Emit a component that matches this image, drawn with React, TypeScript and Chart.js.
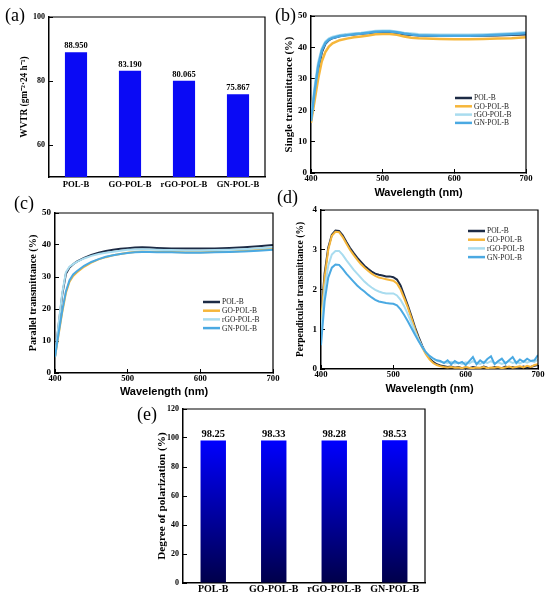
import { useEffect, useRef } from 'react';
import Chart from 'chart.js/auto';

// ---- data ----
const samples = ['POL-B', 'GO-POL-B', 'rGO-POL-B', 'GN-POL-B'];

const wvtr = [88.95, 83.19, 80.065, 75.867];
const wvtrTicks = [60, 80, 100];

const polarization = [98.25, 98.33, 98.28, 98.53];
const polarizationTicks = [0, 20, 40, 60, 80, 100, 120];

const wavelengthTicks = [400, 500, 600, 700];
const transTicks = [0, 10, 20, 30, 40, 50];
const perpTicks = [0, 1, 2, 3, 4];

const wlCoarse = [
  400, 405, 410, 415, 420, 425, 430, 440, 450, 460, 470, 480, 490, 500, 510,
  520, 530, 540, 550, 560, 580, 600, 620, 640, 660, 680, 700,
];

const singlePol = [
  17, 25, 33, 38.5, 41.2, 42.4, 43, 43.6, 44, 44.2, 44.4, 44.6, 44.9, 45, 44.9,
  44.6, 44.2, 44, 43.9, 43.8, 43.7, 43.7, 43.7, 43.8, 43.9, 44, 44.2,
];
const singleGo = [
  16, 23, 30, 35.5, 38.5, 40.3, 41.3, 42.3, 42.8, 43.2, 43.5, 43.8, 44.2, 44.3,
  44.3, 44, 43.5, 43.1, 42.9, 42.8, 42.7, 42.6, 42.6, 42.7, 42.8, 42.9, 43.2,
];
const singleRgo = [
  17.5, 27, 35, 39.5, 41.8, 42.8, 43.3, 43.9, 44.2, 44.4, 44.6, 44.9, 45.2,
  45.3, 45.3, 45, 44.6, 44.4, 44.2, 44.1, 44, 44, 44, 44.1, 44.3, 44.5, 44.8,
];
const singleGn = [
  16.5, 26, 34, 39, 41.4, 42.5, 43, 43.6, 43.9, 44.2, 44.4, 44.7, 45, 45.1,
  45.1, 44.8, 44.4, 44.1, 43.9, 43.8, 43.7, 43.7, 43.7, 43.8, 44, 44.2, 44.5,
];

const parallelPol = [
  5, 15, 24.5, 31, 33, 34, 34.8, 36, 36.9, 37.6, 38.1, 38.5, 38.8, 39, 39.2,
  39.3, 39.2, 39.1, 39, 38.9, 38.9, 38.9, 38.9, 39.1, 39.3, 39.6, 40,
];
const parallelGo = [
  5, 12, 19, 25, 28.5, 30.3, 31.4, 33.2, 34.5, 35.5, 36.2, 36.8, 37.2, 37.6,
  37.8, 38, 37.9, 37.9, 37.8, 37.8, 37.7, 37.7, 37.8, 37.9, 38.2, 38.5, 38.9,
];
const parallelRgo = [
  5, 15.5, 25, 31.5, 33.2, 34, 34.7, 35.8, 36.6, 37.2, 37.6, 37.9, 38.2, 38.5,
  38.6, 38.7, 38.6, 38.5, 38.4, 38.4, 38.3, 38.3, 38.4, 38.5, 38.7, 39, 39.3,
];
const parallelGn = [
  5, 12.5, 19.5, 25.5, 29, 30.8, 31.8, 33.5, 34.7, 35.6, 36.3, 36.8, 37.2,
  37.5, 37.7, 37.8, 37.8, 37.7, 37.7, 37.7, 37.6, 37.6, 37.7, 37.8, 38, 38.2,
  38.5,
];

// 400..700 nm every 5 nm
const wlFine = [
  400, 405, 410, 415, 420, 425, 430, 435, 440, 445, 450, 455, 460, 465, 470,
  475, 480, 485, 490, 495, 500, 505, 510, 515, 520, 525, 530, 535, 540, 545,
  550, 555, 560, 565, 570, 575, 580, 585, 590, 595, 600, 605, 610, 615, 620,
  625, 630, 635, 640, 645, 650, 655, 660, 665, 670, 675, 680, 685, 690, 695,
  700,
];
const perpPol = [
  1.3, 2.4, 3.05, 3.38, 3.48, 3.47, 3.36, 3.2, 3.05, 2.92, 2.8, 2.7, 2.6, 2.52,
  2.45, 2.4, 2.37, 2.35, 2.33, 2.33, 2.31, 2.25, 2.1, 1.85, 1.6, 1.33, 1.05,
  0.8, 0.58, 0.4, 0.27, 0.18, 0.12, 0.09, 0.07, 0.05, 0.06, 0.03, 0.05, 0.02,
  0.04, 0.02, 0.05, 0.03, 0.02, 0.06, 0.03, 0.02, 0.05, 0.03, 0.02, 0.06, 0.03,
  0.05, 0.02, 0.04, 0.06, 0.03, 0.05, 0.08, 0.1,
];
const perpGo = [
  1.2, 2.3, 3.0, 3.35, 3.45, 3.44, 3.32, 3.16, 3.0, 2.87, 2.75, 2.64, 2.55,
  2.47, 2.4, 2.34, 2.3, 2.28, 2.26, 2.24, 2.22, 2.15, 2.0, 1.78, 1.55, 1.28,
  1.0, 0.75, 0.54, 0.37, 0.24, 0.15, 0.1, 0.07, 0.05, 0.04, 0.05, 0.03, 0.04,
  0.02, 0.05, 0.03, 0.02, 0.04, 0.03, 0.05, 0.02, 0.04, 0.03, 0.05, 0.02, 0.04,
  0.06, 0.03, 0.05, 0.07, 0.04, 0.08, 0.05, 0.1, 0.12,
];
const perpRgo = [
  0.9, 2.0, 2.6, 2.88, 2.97, 2.97, 2.87, 2.74, 2.62, 2.5, 2.4, 2.3, 2.2, 2.12,
  2.05, 1.99, 1.95, 1.92, 1.9, 1.9, 1.9, 1.85, 1.74, 1.58, 1.38, 1.16, 0.94,
  0.74, 0.56, 0.42, 0.32, 0.25, 0.21, 0.18, 0.17, 0.15, 0.18, 0.14, 0.16, 0.13,
  0.17, 0.14, 0.2, 0.15, 0.13, 0.18, 0.15, 0.2, 0.14, 0.17, 0.13, 0.16, 0.2,
  0.15, 0.18, 0.14, 0.19, 0.16, 0.2, 0.18, 0.24,
];
const perpGn = [
  0.6, 1.7, 2.3, 2.55, 2.63, 2.62, 2.52, 2.4, 2.3, 2.2, 2.1, 2.02, 1.95, 1.87,
  1.8, 1.74, 1.7, 1.68, 1.66, 1.65, 1.64, 1.6, 1.5, 1.36, 1.2, 1.03, 0.86, 0.7,
  0.55, 0.42, 0.33, 0.27, 0.22, 0.2, 0.15, 0.22, 0.12, 0.2, 0.14, 0.18, 0.1,
  0.2, 0.3, 0.12, 0.22, 0.15, 0.25, 0.32, 0.12, 0.2, 0.26, 0.14, 0.22, 0.3,
  0.15, 0.24, 0.18, 0.26, 0.2, 0.22, 0.35,
];

const lineColors = ['#1d2b45', '#f6b63a', '#a9dcef', '#4aa9e2'];

const SERIF = '"Liberation Serif", "Times New Roman", serif';
const SANS = '"Liberation Sans", Arial, sans-serif';

// ---- plugins ----
const framePlugin = {
  id: 'frame',
  afterDraw(chart: any) {
    const { ctx, chartArea } = chart;
    ctx.save();
    ctx.strokeStyle = '#000';
    ctx.lineWidth = 1.2;
    ctx.beginPath();
    ctx.moveTo(chartArea.left, chartArea.top);
    ctx.lineTo(chartArea.right, chartArea.top);
    ctx.lineTo(chartArea.right, chartArea.bottom);
    ctx.stroke();
    ctx.restore();
  },
};

const insideLegend = {
  id: 'insideLegend',
  afterDatasetsDraw(chart: any, _args: any, opts: any) {
    if (!opts || !opts.display) return;
    const { ctx, chartArea } = chart;
    ctx.save();
    ctx.font = `${opts.size}px ${SERIF}`;
    ctx.textBaseline = 'middle';
    chart.data.datasets.forEach((ds: any, i: number) => {
      const x = chartArea.left + opts.x;
      const y = chartArea.top + opts.y + i * opts.gap;
      ctx.strokeStyle = ds.borderColor;
      ctx.lineWidth = 2.5;
      ctx.beginPath();
      ctx.moveTo(x, y);
      ctx.lineTo(x + opts.len, y);
      ctx.stroke();
      ctx.fillStyle = '#222';
      ctx.fillText(ds.label, x + opts.len + 2, y + 0.5);
    });
    ctx.restore();
  },
};

const barValues = {
  id: 'barValues',
  afterDatasetsDraw(chart: any, _args: any, opts: any) {
    if (!opts || !opts.display) return;
    const { ctx } = chart;
    const values = chart.data.datasets[0].data as number[];
    ctx.save();
    ctx.font = `bold ${opts.size}px ${SERIF}`;
    ctx.fillStyle = '#000';
    ctx.textAlign = 'center';
    ctx.textBaseline = 'bottom';
    chart.getDatasetMeta(0).data.forEach((bar: any, i: number) => {
      ctx.fillText(values[i].toFixed(opts.digits), bar.x, bar.y - opts.offset);
    });
    ctx.restore();
  },
};

// ---- helpers ----
const tickFont = (size: number) => ({ family: SERIF, size, weight: 'bold' as const });

const setTicks = (values: number[]) => (scale: any) => {
  scale.ticks = values.map((v) => ({ value: v }));
};

const fixWidth = (w: number) => (scale: any) => {
  scale.width = w;
};
const fixHeight = (h: number) => (scale: any) => {
  scale.height = h;
};
// x axis: fixed height and no extra room for the end labels
const fixXAxis = (h: number) => (scale: any) => {
  scale.height = h;
  scale.paddingLeft = 0;
  scale.paddingRight = 0;
};

const lineSeries = (xs: number[], series: number[][], width: number) =>
  series.map((ys, i) => ({
    label: samples[i],
    data: ys.map((y, j) => ({ x: xs[j], y })),
    borderColor: lineColors[i],
    backgroundColor: lineColors[i],
    borderWidth: width,
    pointRadius: 0,
    tension: 0,
    order: series.length - i,
  }));

interface LineOpts {
  xs: number[];
  series: number[][];
  lineWidth: number;
  yMax: number;
  yTicks: number[];
  yTitle: string;
  yTitleSize: number;
  yWidth: number;
  yTitlePad: number;
  xHeight: number;
  xTitlePad: number;
  pad: { top: number; right: number };
  legend: { x: number; y: number; gap: number; len: number; size: number };
}

const lineConfig = (o: LineOpts): any => ({
  type: 'line',
  data: { datasets: lineSeries(o.xs, o.series, o.lineWidth) },
  options: {
    animation: false,
    responsive: true,
    maintainAspectRatio: false,
    layout: { padding: { top: o.pad.top, right: o.pad.right, left: 0, bottom: 0 } },
    plugins: {
      legend: { display: false },
      tooltip: { enabled: false },
      insideLegend: { display: true, ...o.legend },
    },
    scales: {
      x: {
        type: 'linear',
        min: 400,
        max: 700,
        afterBuildTicks: setTicks(wavelengthTicks),
        afterFit: fixXAxis(o.xHeight),
        grid: { drawOnChartArea: false, tickLength: -4, color: '#000' },
        border: { color: '#000', width: 1.5 },
        ticks: { font: tickFont(8.7), color: '#000', padding: 5, maxRotation: 0 },
        title: {
          display: true,
          text: 'Wavelength (nm)',
          font: { family: SANS, size: 11, weight: 'bold' },
          color: '#000',
          padding: { top: 0, bottom: o.xTitlePad },
        },
      },
      y: {
        min: 0,
        max: o.yMax,
        afterBuildTicks: setTicks(o.yTicks),
        afterFit: fixWidth(o.yWidth),
        grid: { drawOnChartArea: false, tickLength: -4, color: '#000' },
        border: { color: '#000', width: 1.5 },
        ticks: { font: tickFont(9), color: '#000', padding: 8 },
        title: {
          display: true,
          text: o.yTitle,
          font: { family: SERIF, size: o.yTitleSize, weight: 'bold' },
          color: '#000',
          padding: { top: o.yTitlePad, bottom: 0 },
        },
      },
    },
  },
  plugins: [framePlugin, insideLegend],
});

const wvtrConfig: any = {
  type: 'bar',
  data: {
    labels: samples,
    datasets: [
      {
        data: wvtr,
        backgroundColor: '#0a0af5',
        barPercentage: 0.41,
        categoryPercentage: 1,
      },
    ],
  },
  options: {
    animation: false,
    responsive: true,
    maintainAspectRatio: false,
    layout: { padding: { top: 17, right: 10, left: 0, bottom: 0 } },
    plugins: {
      legend: { display: false },
      tooltip: { enabled: false },
      barValues: { display: true, size: 8.5, digits: 3, offset: 2 },
    },
    scales: {
      x: {
        afterFit: fixHeight(23),
        grid: { drawOnChartArea: false, drawTicks: false },
        border: { color: '#000', width: 1.5 },
        ticks: {
          font: tickFont(8.7),
          color: '#000',
          padding: 3,
          maxRotation: 0,
          autoSkip: false,
        },
      },
      y: {
        min: 50,
        max: 100,
        afterBuildTicks: setTicks(wvtrTicks),
        afterFit: fixWidth(49),
        grid: { drawOnChartArea: false, tickLength: -4, color: '#000' },
        border: { color: '#000', width: 1.5 },
        ticks: { font: tickFont(8), color: '#000', padding: 8 },
        title: {
          display: true,
          text: 'WVTR (gm\u207B\u00B2\u00B724 h\u207B\u00B9)',
          font: { family: SERIF, size: 9.3, weight: 'bold' },
          color: '#000',
          padding: { top: 19, bottom: 0 },
        },
      },
    },
  },
  plugins: [framePlugin, barValues],
};

const polarizationConfig: any = {
  type: 'bar',
  data: {
    labels: samples,
    datasets: [
      {
        data: polarization,
        backgroundColor: (c: any) => {
          const area = c.chart.chartArea;
          if (!area) return '#0000ff';
          const g = c.chart.ctx.createLinearGradient(0, area.bottom, 0, area.top);
          g.addColorStop(0, '#00004a');
          g.addColorStop(0.82, '#0000ff');
          g.addColorStop(1, '#0000ff');
          return g;
        },
        barPercentage: 0.42,
        categoryPercentage: 1,
      },
    ],
  },
  options: {
    animation: false,
    responsive: true,
    maintainAspectRatio: false,
    layout: { padding: { top: 14, right: 5, left: 0, bottom: 0 } },
    plugins: {
      legend: { display: false },
      tooltip: { enabled: false },
      barValues: { display: true, size: 10.5, digits: 2, offset: 1 },
    },
    scales: {
      x: {
        afterFit: fixHeight(16),
        grid: { drawOnChartArea: false, drawTicks: false },
        border: { color: '#000', width: 1.5 },
        ticks: {
          font: tickFont(10),
          color: '#000',
          padding: 0,
          maxRotation: 0,
          autoSkip: false,
        },
      },
      y: {
        min: 0,
        max: 120,
        afterBuildTicks: setTicks(polarizationTicks),
        afterFit: fixWidth(53),
        grid: { drawOnChartArea: false, tickLength: -4, color: '#000' },
        border: { color: '#000', width: 1.5 },
        ticks: { font: tickFont(8), color: '#000', padding: 8 },
        title: {
          display: true,
          text: 'Degree of polarization (%)',
          font: { family: SERIF, size: 11.2, weight: 'bold' },
          color: '#000',
          padding: { top: 25, bottom: 0 },
        },
      },
    },
  },
  plugins: [framePlugin, barValues],
};

const singleConfig = lineConfig({
  xs: wlCoarse,
  series: [singlePol, singleGo, singleRgo, singleGn],
  lineWidth: 2.5,
  yMax: 50,
  yTicks: transTicks,
  yTitle: 'Single transmittance (%)',
  yTitleSize: 10.8,
  yWidth: 36,
  yTitlePad: 7.5,
  xHeight: 27,
  xTitlePad: 0,
  pad: { top: 16, right: 24 },
  legend: { x: 144, y: 82, gap: 8.3, len: 17, size: 7.5 },
});

const parallelConfig = lineConfig({
  xs: wlCoarse,
  series: [parallelPol, parallelGo, parallelRgo, parallelGn],
  lineWidth: 2,
  yMax: 50,
  yTicks: transTicks,
  yTitle: 'Parallel transmittance (%)',
  yTitleSize: 10.2,
  yWidth: 55,
  yTitlePad: 27,
  xHeight: 27,
  xTitlePad: 1,
  pad: { top: 18, right: 7 },
  legend: { x: 148, y: 89, gap: 8.7, len: 17, size: 7.5 },
});

const perpConfig = lineConfig({
  xs: wlFine,
  series: [perpPol, perpGo, perpRgo, perpGn],
  lineWidth: 2,
  yMax: 4,
  yTicks: perpTicks,
  yTitle: 'Perpendicular transmittance (%)',
  yTitleSize: 9.5,
  yWidth: 46,
  yTitlePad: 20,
  xHeight: 27,
  xTitlePad: 0.5,
  pad: { top: 15, right: 12 },
  legend: { x: 147, y: 21, gap: 8.7, len: 17, size: 7.5 },
});

// ---- components ----
const ChartBox = ({
  config,
  left,
  top,
  width,
  height,
}: {
  config: any;
  left: number;
  top: number;
  width: number;
  height: number;
}) => {
  const canvasRef = useRef<HTMLCanvasElement | null>(null);

  useEffect(() => {
    if (!canvasRef.current) return;
    const chart = new Chart(canvasRef.current, config);
    return () => chart.destroy();
  }, [config]);

  return (
    <div style={{ position: 'absolute', left, top, width, height }}>
      <canvas ref={canvasRef} />
    </div>
  );
};

const PanelLabel = ({ text, left, top }: { text: string; left: number; top: number }) => (
  <div
    style={{
      position: 'absolute',
      left,
      top,
      fontFamily: SERIF,
      fontSize: 18,
      lineHeight: 1,
      color: '#000',
    }}
  >
    {text}
  </div>
);

const App = () => (
  <div
    style={{
      position: 'fixed',
      left: 0,
      top: 0,
      width: 550,
      height: 599,
      background: '#fff',
      overflow: 'hidden',
    }}
  >
    <ChartBox config={wvtrConfig} left={0} top={0} width={275} height={200} />
    <ChartBox config={singleConfig} left={275} top={0} width={275} height={200} />
    <ChartBox config={parallelConfig} left={0} top={195} width={280} height={205} />
    <ChartBox config={perpConfig} left={275} top={195} width={275} height={201} />
    <ChartBox config={polarizationConfig} left={130} top={395} width={300} height={204} />
    <PanelLabel text="(a)" left={5} top={6} />
    <PanelLabel text="(b)" left={275} top={6} />
    <PanelLabel text="(c)" left={14} top={194} />
    <PanelLabel text="(d)" left={277} top={188} />
    <PanelLabel text="(e)" left={137} top={405} />
  </div>
);

export default App;
